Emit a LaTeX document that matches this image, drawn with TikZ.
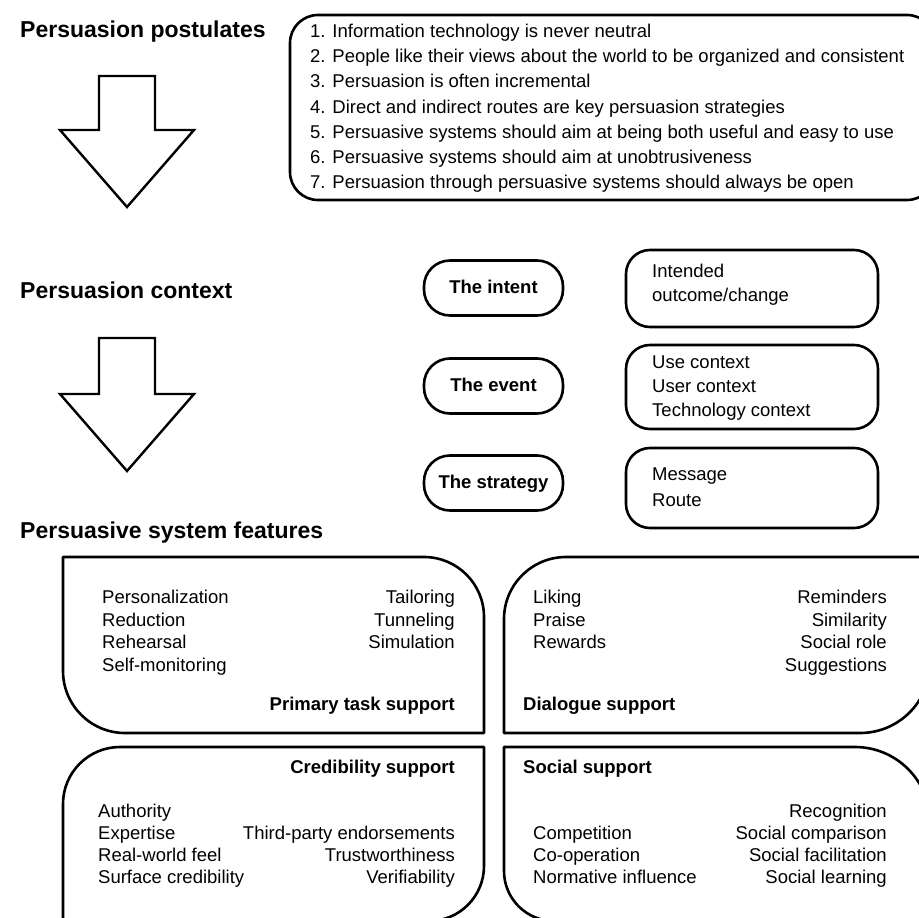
\documentclass[tikz,border=0pt]{standalone}
\usepackage{fontspec}
\setmainfont{Liberation Sans}
\begin{document}
\begin{tikzpicture}[x=1pt,y=-1pt,
  frame/.style={line width=2.6pt, line join=round},
  blockarrow/.style={line width=2.4pt, line join=miter},
  heading/.style={font=\fontsize{23}{27}\selectfont\bfseries, anchor=west, inner sep=0pt, text height=16pt, text depth=1pt},
  txt/.style={font=\fontsize{18.5}{22}\selectfont, inner sep=0pt, text height=12pt, text depth=1pt},
  lab/.style={font=\fontsize{18.5}{22}\selectfont\bfseries, inner sep=0pt, text height=12pt, text depth=1pt},
  oval/.style={draw, line width=2.6pt, rounded corners=26pt, minimum width=139pt, minimum height=55pt, inner sep=0pt},
  cbox/.style={draw, line width=2.6pt, rounded corners=24pt, minimum width=252pt, inner sep=0pt},
  ]
\useasboundingbox (0,0) rectangle (919,918);
\clip (0,0) rectangle (919,918);

% ---------- postulates ----------
\node[heading] (h1) at (20,30) {Persuasion postulates};
\draw[frame, rounded corners=28pt] (290,15) rectangle (935,200);
\foreach \t [count=\i] in {
  1. Information technology is never neutral,
  2. People like their views about the world to be organized and consistent,
  3. Persuasion is often incremental,
  4. Direct and indirect routes are key persuasion strategies,
  5. Persuasive systems should aim at being both useful and easy to use,
  6. Persuasive systems should aim at unobtrusiveness,
  7. Persuasion through persuasive systems should always be open}
  \node[txt, anchor=west] (post\i) at (310,{32+25.2*(\i-1)}) {\t};

% block arrows
\draw[blockarrow] (99,76) -- (155,76) -- (155,130) -- (194,130) -- (127,207)
  -- (60,130) -- (99,130) -- cycle;
\draw[blockarrow] (99,338) -- (155,338) -- (155,394) -- (194,394) -- (127,471)
  -- (60,394) -- (99,394) -- cycle;

% ---------- context ----------
\node[heading] (h2) at (20,291) {Persuasion context};

\node[oval] (intent) at (493.5,288) {};
\node[lab] (intentlab) at (intent.center) {The intent};
\node[oval] (event) at (493.5,386) {};
\node[lab] (eventlab) at (event.center) {The event};
\node[oval] (strategy) at (493.5,483) {};
\node[lab] (strategylab) at (strategy.center) {The strategy};

\node[cbox, minimum height=77pt] (intentbox) at (752,288.5) {};
\node[txt, anchor=west] (c1) at (652,272) {Intended};
\node[txt, anchor=west] (c2) at (652,296) {outcome/change};

\node[cbox, minimum height=84pt] (eventbox) at (752,387) {};
\node[txt, anchor=west] (c3) at (652,363) {Use context};
\node[txt, anchor=west] (c4) at (652,387) {User context};
\node[txt, anchor=west] (c5) at (652,411) {Technology context};

\node[cbox, minimum height=80pt] (strategybox) at (752,488) {};
\node[txt, anchor=west] (c6) at (652,475) {Message};
\node[txt, anchor=west] (c7) at (652,501) {Route};

% ---------- features ----------
\node[heading] (h3) at (20,531) {Persuasive system features};

% primary task support: rounded top right and bottom left
\draw[frame] (63,557) -- (424,557) .. controls (457.1,557) and (484,583.9) .. (484,617)
  -- (484,733) -- (125,733) .. controls (90.8,733) and (63,705.2) .. (63,671) -- cycle;
% dialogue support: rounded top left and bottom right
\draw[frame] (504,619) .. controls (504,584.8) and (531.8,557) .. (566,557) -- (930,557)
  -- (930,663) .. controls (930,701.7) and (898.7,733) .. (860,733) -- (504,733) -- cycle;
% credibility support: rounded top left and bottom right
\draw[frame] (63,804) .. controls (63,772.5) and (88.5,747) .. (120,747) -- (484,747)
  -- (484,866) .. controls (484,896.4) and (459.4,921) .. (429,921) -- (63,921) -- cycle;
% social support: rounded top right and bottom left
\draw[frame] (504,747) -- (855,747) .. controls (896.4,747) and (930,780.6) .. (930,822)
  -- (930,921) -- (554,921) .. controls (526.4,921) and (504,898.6) .. (504,871) -- cycle;

% primary task support
\node[txt, anchor=west] (f1) at (102,598) {Personalization};
\node[txt, anchor=west] (f2) at (102,620.5) {Reduction};
\node[txt, anchor=west] (f3) at (102,643) {Rehearsal};
\node[txt, anchor=west] (f4) at (102,665.5) {Self-monitoring};
\node[txt, anchor=east] (f5) at (455,598) {Tailoring};
\node[txt, anchor=east] (f6) at (455,620.5) {Tunneling};
\node[txt, anchor=east] (f7) at (455,643) {Simulation};
\node[lab, anchor=east] (pts) at (455,705) {Primary task support};

% dialogue support
\node[txt, anchor=west] (d1) at (533,598) {Liking};
\node[txt, anchor=west] (d2) at (533,620.5) {Praise};
\node[txt, anchor=west] (d3) at (533,643) {Rewards};
\node[txt, anchor=east] (d4) at (887,598) {Reminders};
\node[txt, anchor=east] (d5) at (887,620.5) {Similarity};
\node[txt, anchor=east] (d6) at (887,643) {Social role};
\node[txt, anchor=east] (d7) at (887,665.5) {Suggestions};
\node[lab, anchor=west] (ds) at (523,705) {Dialogue support};

% credibility support
\node[lab, anchor=east] (cs) at (455,768) {Credibility support};
\node[txt, anchor=west] (k1) at (98,812) {Authority};
\node[txt, anchor=west] (k2) at (98,834) {Expertise};
\node[txt, anchor=west] (k3) at (98,856) {Real-world feel};
\node[txt, anchor=west] (k4) at (98,878) {Surface credibility};
\node[txt, anchor=east] (k5) at (455,834) {Third-party endorsements};
\node[txt, anchor=east] (k6) at (455,856) {Trustworthiness};
\node[txt, anchor=east] (k7) at (455,878) {Verifiability};

% social support
\node[lab, anchor=west] (ss) at (523,768) {Social support};
\node[txt, anchor=west] (s1) at (533,834) {Competition};
\node[txt, anchor=west] (s2) at (533,856) {Co-operation};
\node[txt, anchor=west] (s3) at (533,878) {Normative influence};
\node[txt, anchor=east] (s4) at (887,812) {Recognition};
\node[txt, anchor=east] (s5) at (887,834) {Social comparison};
\node[txt, anchor=east] (s6) at (887,856) {Social facilitation};
\node[txt, anchor=east] (s7) at (887,878) {Social learning};
\end{tikzpicture}
\end{document}
